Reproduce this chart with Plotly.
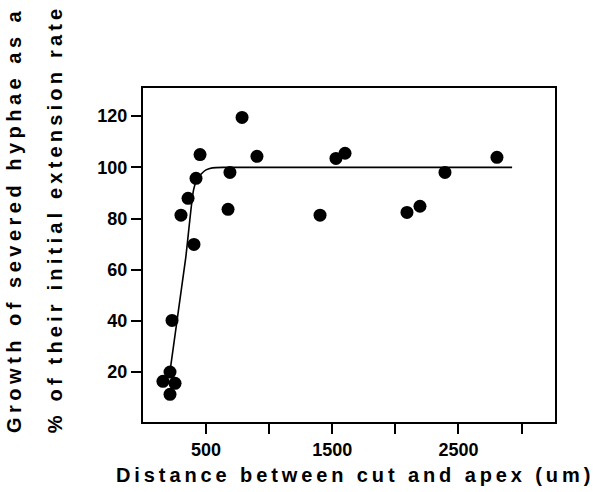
import plotly.graph_objects as go

# Data points
dist_um = [158, 214, 214, 254, 230, 301, 357, 404, 420, 452, 674, 689, 785, 903,
           1403, 1529, 1601, 2092, 2195, 2393, 2805]
growth_pct = [16.4, 20, 11.3, 15.6, 40.2, 81.3, 87.9, 69.9, 95.7, 105, 83.6, 98, 119.5, 104.3,
              81.3, 103.5, 105.5, 82.4, 84.8, 98, 103.9]

# Fitted curve
fit_x = [219, 338, 400, 430, 465, 500, 550, 650, 2925]
fit_y = [22, 64.4, 91, 95.5, 97.6, 99, 99.8, 100, 100]

x_tickvals = [500, 1000, 1500, 2000, 2500, 3000]
x_ticktext = ["500", "", "1500", "", "2500", ""]
y_tickvals = [20, 40, 60, 80, 100, 120]

FONT = "Liberation Sans"

fig = go.Figure()
fig.add_trace(go.Scatter(x=fit_x, y=fit_y, mode="lines",
                         line=dict(color="black", width=1.6, shape="spline", smoothing=0.6),
                         hoverinfo="skip", showlegend=False))
fig.add_trace(go.Scatter(x=dist_um, y=growth_pct, mode="markers",
                         marker=dict(color="black", size=13, line=dict(width=0)),
                         showlegend=False))

fig.update_layout(
    width=593, height=492,
    margin=dict(l=143, r=38, t=88, b=70),
    paper_bgcolor="white", plot_bgcolor="white",
    font=dict(family=FONT, size=18, color="black", weight="bold"),
    showlegend=False,
)
fig.update_xaxes(range=[0, 3265], tickvals=x_tickvals, ticktext=x_ticktext,
                 ticks="outside", ticklen=10, tickwidth=2, tickcolor="black",
                 showline=True, linewidth=2, linecolor="black", mirror=True,
                 showgrid=False, zeroline=False,
                 tickfont=dict(family=FONT, size=18, color="black", weight="bold"))
fig.update_yaxes(range=[0.5, 131], tickvals=y_tickvals,
                 ticks="outside", ticklen=10, tickwidth=2, tickcolor="black",
                 showline=True, linewidth=2, linecolor="black", mirror=True,
                 showgrid=False, zeroline=False, ticklabelstandoff=0,
                 tickfont=dict(family=FONT, size=18, color="black", weight="bold"))

fig.add_annotation(text='<span style="letter-spacing:3.9px">Distance between cut and apex (um)</span>',
                   xref="paper", yref="paper", x=0.515, y=-0.158,
                   xanchor="center", yanchor="middle", showarrow=False,
                   font=dict(family=FONT, size=20, color="black", weight="bold"))
fig.add_annotation(text='<span style="letter-spacing:4.5px">Growth of severed hyphae as a</span>',
                   xref="paper", yref="paper", x=-0.313, y=0.605, textangle=-90,
                   xanchor="center", yanchor="middle", showarrow=False,
                   font=dict(family=FONT, size=20, color="black", weight="bold"))
fig.add_annotation(text='<span style="letter-spacing:4.2px">% of their initial extension rate</span>',
                   xref="paper", yref="paper", x=-0.2136, y=0.61, textangle=-90,
                   xanchor="center", yanchor="middle", showarrow=False,
                   font=dict(family=FONT, size=20, color="black", weight="bold"))

fig.write_html("out.html")
